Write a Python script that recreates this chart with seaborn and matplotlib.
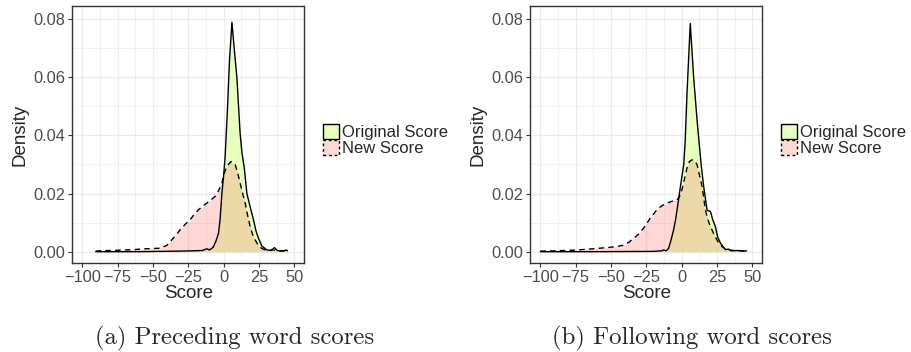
import numpy as np
import seaborn as sns
import matplotlib
matplotlib.use('Agg')
import matplotlib.pyplot as plt
from matplotlib.patches import Patch
from matplotlib.ticker import MultipleLocator

# density curves: (score, density)
pre_orig_x = [-90.5, -60, -30, -15, -12, -10, -7.4, -5.5, -3.6, -2.5, -1.2, 0, 1.1, 2.7, 4.2, 5.9,
              7.5, 9.4, 11.7, 13, 14.6, 16.5, 18.5, 21.2, 23, 24.7, 27, 30.6, 33.5, 36, 38, 42, 44.5, 45.3]
pre_orig_y = [0, 0, 0.0002, 0.0004, 0.001, 0.0006, 0.0015, 0.0035, 0.0063, 0.011, 0.020, 0.026, 0.0327,
              0.0487, 0.066, 0.0789, 0.070, 0.060, 0.0407, 0.034, 0.029, 0.020, 0.016, 0.0109, 0.007,
              0.0046, 0.002, 0.0006, 0.0004, 0.0014, 0.0004, 0.0002, 0.0006, 0.0003]
pre_new_x = [-90.5, -87.5, -75, -63.9, -55, -44.9, -40, -37.9, -34, -30.8, -27, -23.7, -20.5, -17.8,
             -14.5, -11.9, -9, -6, -3.5, -1.2, 0.5, 2.3, 5.2, 8.2, 10, 11.7, 13.5, 15.3, 17, 18.8,
             20.5, 22.4, 24.5, 27.1, 30, 35, 40, 45.3]
pre_new_y = [0.0002, 0.0003, 0.0005, 0.0007, 0.0010, 0.0012, 0.0022, 0.0034, 0.0055, 0.0075, 0.0095,
             0.011, 0.013, 0.0144, 0.0158, 0.0167, 0.0178, 0.019, 0.021, 0.0236, 0.027, 0.0294, 0.031,
             0.030, 0.027, 0.0236, 0.020, 0.0167, 0.0125, 0.0086, 0.006, 0.004, 0.0022, 0.0011, 0.0005,
             0.0006, 0.0003, 0.0002]

fol_orig_x = [-100, -60, -20, -14, -12.8, -11, -9.3, -7.5, -5.7, -4.3, -2.9, -0.5, 1.5, 2.5, 3.8, 6.1,
              8.5, 10.9, 13.7, 15.6, 18.0, 20.4, 22, 23.9, 25.5, 27.5, 31.0, 33, 35, 40, 44, 46]
fol_orig_y = [0, 0, 0.0001, 0.0003, 0.0006, 0.0003, 0.0011, 0.004, 0.0075, 0.011, 0.0155, 0.0236, 0.030,
              0.038, 0.0545, 0.0785, 0.060, 0.0453, 0.0304, 0.0224, 0.0143, 0.0138, 0.011, 0.0086,
              0.005, 0.0029, 0.0007, 0.0009, 0.0003, 0.0004, 0.0002, 0.0003]
fol_new_x = [-100, -90, -76.8, -65, -53.1, -47, -41.3, -37.5, -34.2, -30.5, -27.1, -24.5, -22.3, -17.5,
             -14, -10.4, -7, -3.3, -1.5, 0.2, 2, 3.8, 5.5, 7.3, 9.2, 10.9, 12.8, 14.5, 16.8, 18.6,
             20.4, 23.9, 26, 28.7, 32, 38, 46]
fol_new_y = [0.0002, 0.0003, 0.0005, 0.0009, 0.0014, 0.0017, 0.0022, 0.0032, 0.0045, 0.006, 0.008,
             0.0098, 0.0115, 0.0144, 0.0158, 0.0167, 0.0173, 0.0178, 0.019, 0.0213, 0.025, 0.0288,
             0.031, 0.0316, 0.0311, 0.030, 0.026, 0.0224, 0.0144, 0.011, 0.0086, 0.005, 0.0032,
             0.0017, 0.0006, 0.0004, 0.0002]

labels = ["Original Score", "New Score"]
captions = ["(a) Preceding word scores", "(b) Following word scores"]
x_ticks = [-100, -75, -50, -25, 0, 25, 50]
y_ticks = [0.00, 0.02, 0.04, 0.06, 0.08]

orig_fill = (0.9, 1.0, 0.757)
new_fill = (0.98, 0.502, 0.447, 0.3)

sns.set_style("white")
plt.rcParams['font.family'] = ['Liberation Sans', 'DejaVu Sans']

fig = plt.figure(figsize=(9.11, 3.52), dpi=100)
panels = [
    (0.079, pre_orig_x, pre_orig_y, pre_new_x, pre_new_y),
    (0.5818, fol_orig_x, fol_orig_y, fol_new_x, fol_new_y),
]

for i, (x0, ox, oy, nx, ny) in enumerate(panels):
    ax = fig.add_axes([x0, 0.2528, 0.2550, 0.730])
    ax.set_axisbelow(True)
    ax.fill_between(ox, oy, color=orig_fill, lw=0)
    ax.fill_between(nx, ny, color=new_fill, lw=0)
    sns.lineplot(x=ox, y=oy, ax=ax, color='black', lw=1.0, sort=False, estimator=None)
    sns.lineplot(x=nx, y=ny, ax=ax, color='black', lw=1.0, ls=(0, (4, 3)), sort=False, estimator=None)

    ax.set_xlim(-107.3, 57.1)
    ax.set_ylim(-0.0039, 0.0845)
    ax.set_xticks(x_ticks)
    ax.set_yticks(y_ticks)
    ax.set_yticklabels([f"{v:.2f}" for v in y_ticks])
    ax.xaxis.set_minor_locator(MultipleLocator(12.5))
    ax.yaxis.set_minor_locator(MultipleLocator(0.01))
    ax.grid(True, which='major', color='#ebebeb', lw=0.9)
    ax.grid(True, which='minor', color='#ebebeb', lw=0.5)
    ax.tick_params(which='major', direction='out', length=3, width=0.8, color='#333333',
                   labelsize=11.8, labelcolor='#4d4d4d', pad=2, bottom=True, left=True)
    ax.tick_params(which='minor', length=0)
    for s in ax.spines.values():
        s.set_color('#333333')
        s.set_linewidth(1.0)
    ax.set_xlabel("Score", fontsize=13.5, labelpad=0)
    ax.set_ylabel("Density", fontsize=13.5, labelpad=3)

    handles = [Patch(facecolor=orig_fill, edgecolor='black', lw=1.0),
               Patch(facecolor=(0.992, 0.851, 0.835), edgecolor='black', lw=1.0, ls=(0, (2, 2)))]
    fig.legend(handles, labels, loc='center left',
               bbox_to_anchor=(x0 + 0.2752, 0.602), frameon=False, fontsize=12,
               handlelength=1.0, handleheight=1.0, handletextpad=0.15, labelspacing=0.0,
               borderpad=0, borderaxespad=0)

    fig.text(x0 + 0.178, 0.038, captions[i], family='cmr10', fontsize=17.8, ha='center', va='center')

fig.savefig("out.png", dpi=100)
